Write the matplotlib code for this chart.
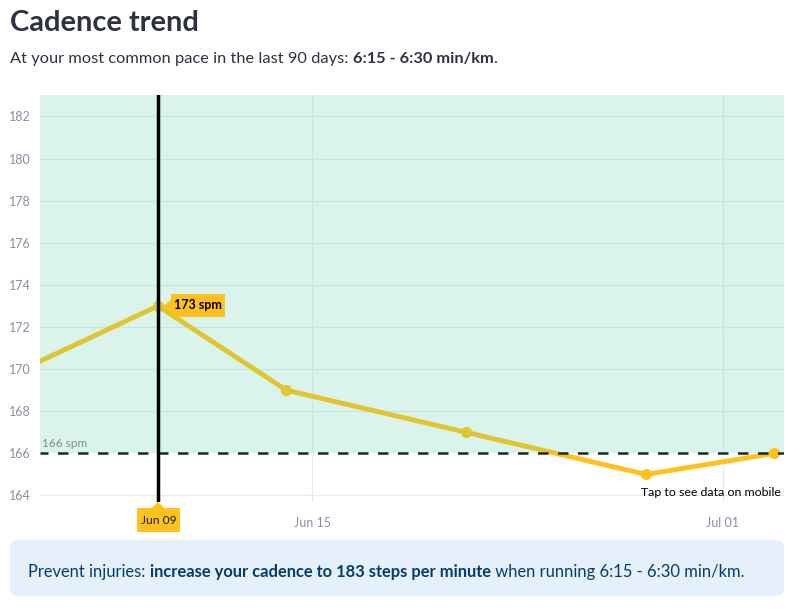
import datetime as dt
import matplotlib
matplotlib.use('Agg')
import matplotlib.pyplot as plt
import matplotlib.dates as mdates
from matplotlib.patches import FancyBboxPatch, Polygon, Rectangle

plt.rcParams['font.family'] = ['Lato', 'DejaVu Sans']

# data
dates = [dt.datetime(2021, 6, 2), dt.datetime(2021, 6, 9), dt.datetime(2021, 6, 14),
         dt.datetime(2021, 6, 21), dt.datetime(2021, 6, 28), dt.datetime(2021, 7, 3)]
cadence = [169, 173, 169, 167, 165, 166]
target = 166
y_ticks = [164, 166, 168, 170, 172, 174, 176, 178, 180, 182]
x_ticks = [dt.datetime(2021, 6, 15), dt.datetime(2021, 7, 1)]
selected_date = dt.datetime(2021, 6, 9)
selected_value = 173

W, H = 797, 614
fig = plt.figure(figsize=(W / 100, H / 100), dpi=100, facecolor='white')

# page layer in pixel coordinates, for the text around the chart
page = fig.add_axes([0, 0, 1, 1], zorder=3)
page.set_xlim(0, W)
page.set_ylim(H, 0)
page.axis('off')
page.patch.set_alpha(0)

# chart
AX_L, AX_R, AX_T, AX_B = 40, 784, 95, 502
ax = fig.add_axes([AX_L / W, 1 - AX_B / H, (AX_R - AX_L) / W, (AX_B - AX_T) / H], zorder=1)
px_per_day = 25.68
px_per_unit = 21.06
x0 = mdates.date2num(selected_date)
ax.set_xlim(x0 - (158 - AX_L) / px_per_day, x0 + (AX_R - 158) / px_per_day)
ax.set_ylim(164 - (AX_B - 495.5) / px_per_unit, 164 + (495.5 - AX_T) / px_per_unit)
for s in ax.spines.values():
    s.set_visible(False)

ymin, ymax = ax.get_ylim()
ax.axhspan(target, ymax, color='#DAF4EB', lw=0, zorder=0)

GRID_GREEN = '#C6E6E6'
GRID_WHITE = '#E6E9F4'
for t in y_ticks:
    if t != target:
        ax.axhline(t, color=GRID_GREEN if t > target else GRID_WHITE, lw=0.9, zorder=1)
for d in x_ticks:
    ax.vlines(d, target, ymax, color=GRID_GREEN, lw=0.9, zorder=1)
    ax.vlines(d, ymin, target, color=GRID_WHITE, lw=0.9, zorder=1)

ax.set_yticks(y_ticks)
ax.set_xticks(x_ticks)
ax.xaxis.set_major_formatter(mdates.DateFormatter('%b %d'))
ax.tick_params(axis='both', length=0, labelsize=9, labelcolor='#8A8FA3')
ax.tick_params(axis='x', pad=11)
ax.tick_params(axis='y', pad=6.5)

# cadence line, darker where it sits on the green band
xlim = ax.get_xlim()
upper = Rectangle((xlim[0], target), xlim[1] - xlim[0], ymax - target, transform=ax.transData)
lower = Rectangle((xlim[0], ymin), xlim[1] - xlim[0], target - ymin, transform=ax.transData)
l1, = ax.plot(dates, cadence, color='#E0C532', lw=3.5, zorder=3, solid_joinstyle='round')
l1.set_clip_path(upper)
l2, = ax.plot(dates, cadence, color='#FFC120', lw=3.5, zorder=3, solid_joinstyle='round')
l2.set_clip_path(lower)
for d, v in zip(dates, cadence):
    ax.plot([d], [v], 'o', ms=8, mec='none', color='#E0C532' if v > target else '#FFC120',
            zorder=4, clip_on=d != dates[-1])

ax.axhline(target, color='#1B2A28', lw=1.8, linestyle=(1.0, (4.2, 3.8)), zorder=5)
ax.annotate(f'{target} spm', (xlim[0], target), xytext=(1.5, 3), textcoords='offset points',
            fontsize=8.6, color='#7E8F96', va='bottom', ha='left', zorder=6)
ax.axvline(selected_date, color='black', lw=2.5, zorder=6)
ax.annotate('Tap to see data on mobile', (1, 0), xycoords='axes fraction', xytext=(-2, 3),
            textcoords='offset points', fontsize=8.9, color='black', ha='right', va='bottom', zorder=7)

# tooltips, placed from the data position
fig.canvas.draw()
sel_px, sel_py = ax.transData.transform((mdates.date2num(selected_date), selected_value))
sel_py = H - sel_py
YEL = '#FFC120'
page.add_patch(Rectangle((sel_px + 13, sel_py - 12), 54, 23, fc=YEL, ec='none'))
page.add_patch(Polygon([(sel_px + 5, sel_py), (sel_px + 13, sel_py - 6), (sel_px + 13, sel_py + 6)], fc=YEL, ec='none'))
page.text(sel_px + 40, sel_py - 0.5, f'{selected_value} spm', fontsize=9, fontweight='bold',
          color='black', ha='center', va='center')
page.add_patch(Rectangle((sel_px - 21, 508), 43, 24, fc=YEL, ec='none'))
page.add_patch(Polygon([(sel_px, 502), (sel_px - 7, 508.5), (sel_px + 7, 508.5)], fc=YEL, ec='none'))
page.text(sel_px + 0.5, 520.5, selected_date.strftime('%b %d'), fontsize=8.7, color='#1a1a1a',
          ha='center', va='center')


def text_runs(x, y, runs, size, color):
    # text with bold parts: each run starts where the one before ended
    r = fig.canvas.get_renderer()
    for s, weight in runs:
        t = page.text(x, y, s, fontsize=size, fontweight=weight, color=color, ha='left', va='baseline')
        x += t.get_window_extent(r).width
    return x


page.text(10, 31, 'Cadence trend', fontsize=20.9, fontweight='bold', color='#2E3240', va='baseline')
text_runs(10, 63, [('At your most common pace in the last 90 days: ', 'normal'),
                   ('6:15 - 6:30 min/km', 'bold'), ('.', 'normal')], 11.78, '#2E3240')

page.add_patch(FancyBboxPatch((18, 548), 758, 40, boxstyle='round,pad=8,rounding_size=8',
                              fc='#E6F0FA', ec='none'))
text_runs(28, 577, [('Prevent injuries: ', 'normal'),
                    ('increase your cadence to 183 steps per minute', 'bold'),
                    (' when running 6:15 - 6:30 min/km.', 'normal')], 11.93, '#023E6C')

fig.savefig('out.png', dpi=100, facecolor='white')
